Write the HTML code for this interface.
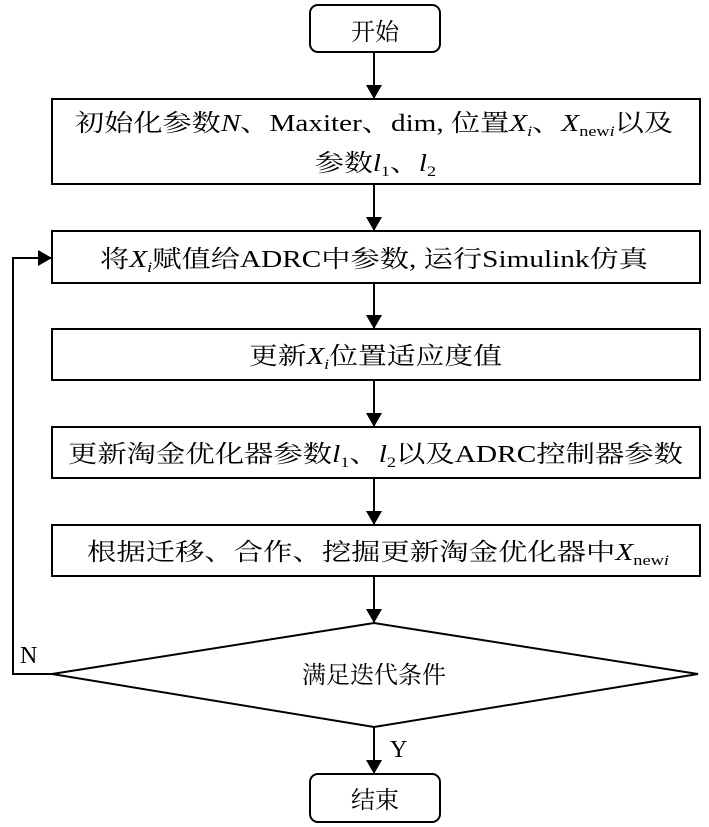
<!DOCTYPE html>
<html><head><meta charset="utf-8"><style>
html,body{margin:0;padding:0;background:#fff;}
svg{display:block;}
text{font-family:"Liberation Serif","Noto Serif CJK SC","Noto Sans CJK SC",serif;font-size:24px;fill:#000;}
</style></head><body>
<svg width="709" height="827" viewBox="0 0 709 827" xmlns="http://www.w3.org/2000/svg">
<defs><marker id="a" markerWidth="10" markerHeight="10" refX="9" refY="5" orient="auto" markerUnits="userSpaceOnUse"><path d="M0,0 L10,5 L0,10 z" fill="#000"/></marker>
<marker id="d" viewBox="0 0 14 16" markerWidth="14" markerHeight="16" refX="14" refY="8" orient="auto" markerUnits="userSpaceOnUse"><path d="M0,0 L14,8 L0,16 z" fill="#000"/></marker></defs>
<g stroke="#000" stroke-width="2" fill="none">
<rect x="310" y="5" width="130" height="47" rx="8"/>
<rect x="52" y="99" width="648" height="85"/>
<rect x="52" y="231" width="648" height="52"/>
<rect x="52" y="329" width="648" height="51"/>
<rect x="52" y="427" width="648" height="51"/>
<rect x="52" y="525" width="648" height="51"/>
<polygon points="374,623 698,674 374,727 52,674"/>
<rect x="310" y="774" width="130" height="48" rx="8"/>
<line x1="374" y1="52" x2="374" y2="99" marker-end="url(#d)"/>
<line x1="374" y1="184" x2="374" y2="231" marker-end="url(#d)"/>
<line x1="374" y1="283" x2="374" y2="329" marker-end="url(#d)"/>
<line x1="374" y1="380" x2="374" y2="427" marker-end="url(#d)"/>
<line x1="374" y1="478" x2="374" y2="525" marker-end="url(#d)"/>
<line x1="374" y1="576" x2="374" y2="623" marker-end="url(#d)"/>
<line x1="374" y1="727" x2="374" y2="774" marker-end="url(#d)"/>
<polyline points="52,674 13,674 13,258 52,258" marker-end="url(#d)"/>
</g>
<text x="375" y="40" text-anchor="middle">开始</text>
<text x="75" y="131" textLength="598" lengthAdjust="spacingAndGlyphs">初始化参数<tspan font-style="italic">N</tspan>、Maxiter、dim, 位置<tspan font-style="italic">X</tspan><tspan font-style="italic" font-size="15" dy="5">i</tspan><tspan dy="-5">、</tspan><tspan font-style="italic">X</tspan><tspan font-size="15" dy="5">new<tspan font-style="italic">i</tspan></tspan><tspan dy="-5">以及</tspan></text>
<text x="315" y="171" textLength="121" lengthAdjust="spacingAndGlyphs">参数<tspan font-style="italic">l</tspan><tspan font-size="15" dy="5">1</tspan><tspan dy="-5">、</tspan><tspan font-style="italic">l</tspan><tspan font-size="15" dy="5">2</tspan></text>
<text x="100" y="267" textLength="548" lengthAdjust="spacingAndGlyphs">将<tspan font-style="italic">X</tspan><tspan font-style="italic" font-size="15" dy="5">i</tspan><tspan dy="-5">赋值给ADRC中参数, 运行Simulink仿真</tspan></text>
<text x="249" y="364" textLength="253" lengthAdjust="spacingAndGlyphs">更新<tspan font-style="italic">X</tspan><tspan font-style="italic" font-size="15" dy="5">i</tspan><tspan dy="-5">位置适应度值</tspan></text>
<text x="68" y="462" textLength="615" lengthAdjust="spacingAndGlyphs">更新淘金优化器参数<tspan font-style="italic">l</tspan><tspan font-size="15" dy="5">1</tspan><tspan dy="-5">、</tspan><tspan font-style="italic">l</tspan><tspan font-size="15" dy="5">2</tspan><tspan dy="-5">以及ADRC控制器参数</tspan></text>
<text x="87" y="560" textLength="582" lengthAdjust="spacingAndGlyphs">根据迁移、合作、挖掘更新淘金优化器中<tspan font-style="italic">X</tspan><tspan font-size="15" dy="5">new<tspan font-style="italic">i</tspan></tspan></text>
<text x="374" y="683" text-anchor="middle">满足迭代条件</text>
<text x="20" y="663">N</text>
<text x="390" y="757">Y</text>
<text x="375" y="808" text-anchor="middle">结束</text>
</svg>
</body></html>
